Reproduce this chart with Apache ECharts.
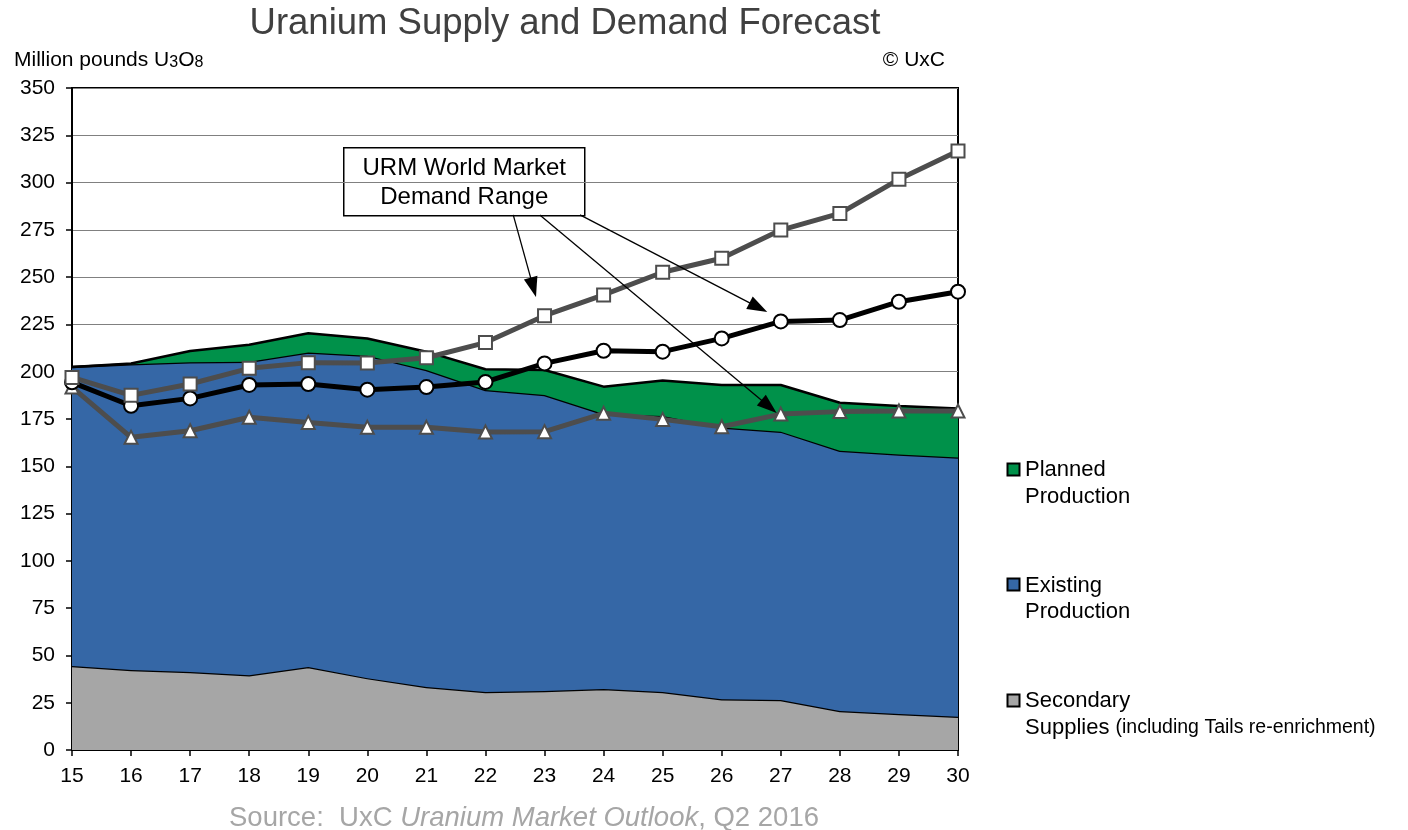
<!DOCTYPE html>
<html><head><meta charset="utf-8">
<script src="https://cdn.jsdelivr.net/npm/echarts@6/dist/echarts.min.js"></script>
<style>html,body{margin:0;padding:0;background:#fff}#c{width:1408px;height:830px}</style>
</head><body><div id="c"></div>
<script>
const years = [15,16,17,18,19,20,21,22,23,24,25,26,27,28,29,30];
const secondarySupplies = [44.4,42.3,41.2,39.5,43.9,38.0,33.3,30.7,31.2,32.3,30.7,26.8,26.4,20.6,19.0,17.6];
const existingProduction = [158.1,161.7,163.8,165.8,166.3,170.5,167.6,159.6,156.5,145.3,145.9,143.7,141.9,137.6,137.2,137.0];
const plannedProduction = [0,0.3,6,9,10.1,9.1,9.7,11,13.2,14.5,18.7,22.5,24.7,25.4,25.7,25.9];
const demandHigh = [197,187.5,193.5,201.8,204.8,204.6,207.4,215.4,229.6,240.6,252.6,260,274.9,283.7,301.7,316.7];
const demandMid = [194.4,182,185.9,193,193.5,190.5,191.9,194.6,204.4,211.1,210.6,217.6,226.6,227.3,237,242.3];
const demandLow = [191.9,165.3,168.8,175.9,173.2,170.6,170.6,168.1,168.3,178,174.8,170.9,177.6,178.9,179.2,179.2];
const yTicks = {min:0, max:350, interval:25};

const FONT = 'Liberation Sans, Arial, sans-serif';
const pair = arr => years.map((y,i)=>[y, arr[i]]);

const chart = echarts.init(document.getElementById('c'));

function areaSeries(name, data, color, z){
  return {name, type:'line', xAxisIndex:0, stack:'supply', data:data, symbol:'none',
    lineStyle:{color:'#000', width:2.5}, areaStyle:{color, opacity:1}, itemStyle:{color}, z, silent:true};
}
function demandSeries(name, data, color, symbol, size, z){
  return {name, type:'line', xAxisIndex:1, data:pair(data), symbol, symbolSize:size,
    lineStyle:{color, width:5}, itemStyle:{color:'#fff', borderColor:color, borderWidth:2, opacity:1}, z, silent:true};
}

const arrows = [
  [[22.47,282.9],[22.81,244.6]],
  [[23.60,282.9],[26.62,234.0]],
  [[22.92,282.9],[26.80,181.6]]
];

const high = demandSeries('High', demandHigh, '#4D4D4D', 'rect', 13, 7);
high.markLine = {
  silent:true, animation:false, z:20,
  symbol:['none','triangle'], symbolSize:[14,20],
  lineStyle:{color:'#000', width:1.3, type:'solid'},
  label:{show:false},
  data: arrows.map(a=>[{coord:a[0], symbol:'none'},{coord:a[1], symbol:'triangle', symbolSize:[14,20]}])
};

const axisLab = {color:'#000', fontSize:21, fontFamily:FONT};

chart.setOption({
  animation:false,
  backgroundColor:'#fff',
  grid:{left:72, right:450, top:88, bottom:80, show:true, borderColor:'#000', borderWidth:2, backgroundColor:'transparent'},
  xAxis:[
    {type:'category', data:years, boundaryGap:false,
      axisLine:{show:true, onZero:false, lineStyle:{color:'#000', width:2}},
      axisTick:{show:true, length:6, interval:0, lineStyle:{color:'#000', width:1.5}},
      axisLabel:Object.assign({margin:16, interval:0}, axisLab),
      splitLine:{show:false}},
    {type:'value', min:15, max:30, interval:1, show:false}
  ],
  yAxis:{type:'value', min:yTicks.min, max:yTicks.max, interval:yTicks.interval,
    axisLine:{show:true, lineStyle:{color:'#000', width:2}},
    axisTick:{show:true, length:6, lineStyle:{color:'#000', width:1.5}},
    axisLabel:Object.assign({margin:17}, axisLab),
    splitLine:{show:true, lineStyle:{color:'#808080', width:1}}},
  series:[
    areaSeries('Secondary Supplies', secondarySupplies, '#A6A6A6', 1),
    areaSeries('Existing Production', existingProduction, '#3567A6', 2),
    areaSeries('Planned Production', plannedProduction, '#00914A', 3),
    demandSeries('Low', demandLow, '#4D4D4D', 'triangle', 13, 5),
    demandSeries('Mid', demandMid, '#000000', 'circle', 14, 6),
    high
  ],
  graphic:[
    {type:'text', x:565, y:24, style:{text:'Uranium Supply and Demand Forecast', font:'36.5px '+FONT, fill:'#404040', textAlign:'center', textVerticalAlign:'middle'}},
    {type:'text', x:14, y:60, style:{text:'Million pounds U{s|3}O{s|8}', fill:'#000', textVerticalAlign:'middle', font:'21px '+FONT,
      rich:{s:{fontSize:16, fontFamily:FONT, fill:'#000', padding:[5,0,0,0]}}}},
    {type:'text', x:945, y:60, style:{text:'© UxC', font:'21px '+FONT, fill:'#000', textAlign:'right', textVerticalAlign:'middle'}},
    {type:'group', left:343, top:147, z:100, children:[
      {type:'rect', shape:{x:0,y:0,width:241,height:68}, style:{fill:'#fff', stroke:'#000', lineWidth:1.5}},
      {type:'text', x:120.5, y:21, style:{text:'URM World Market', font:'24px '+FONT, fill:'#000', textAlign:'center', textVerticalAlign:'middle'}},
      {type:'text', x:120.5, y:50, style:{text:'Demand Range', font:'24px '+FONT, fill:'#000', textAlign:'center', textVerticalAlign:'middle'}}
    ]},
    // legend
    {type:'rect', shape:{x:1007.5,y:463.5,width:12,height:12}, style:{fill:'#00914A', stroke:'#000', lineWidth:2}},
    {type:'text', x:1025, y:470, style:{text:'Planned', font:'22px '+FONT, fill:'#000', textVerticalAlign:'middle'}},
    {type:'text', x:1025, y:497, style:{text:'Production', font:'22px '+FONT, fill:'#000', textVerticalAlign:'middle'}},
    {type:'rect', shape:{x:1007.5,y:578.5,width:12,height:12}, style:{fill:'#3567A6', stroke:'#000', lineWidth:2}},
    {type:'text', x:1025, y:586, style:{text:'Existing', font:'22px '+FONT, fill:'#000', textVerticalAlign:'middle'}},
    {type:'text', x:1025, y:612, style:{text:'Production', font:'22px '+FONT, fill:'#000', textVerticalAlign:'middle'}},
    {type:'rect', shape:{x:1007.5,y:694.5,width:12,height:12}, style:{fill:'#A6A6A6', stroke:'#000', lineWidth:2}},
    {type:'text', x:1025, y:701, style:{text:'Secondary', font:'22px '+FONT, fill:'#000', textVerticalAlign:'middle'}},
    {type:'text', x:1025, y:728, style:{text:'Supplies {sm|(including Tails re-enrichment)}', font:'22px '+FONT, fill:'#000', textVerticalAlign:'middle',
      rich:{sm:{fontSize:19.5, fontFamily:FONT, fill:'#000'}}}},
    {type:'text', x:524, y:818, style:{text:'Source:  UxC {i|Uranium Market Outlook}, Q2 2016', font:'27.5px '+FONT, fill:'#A6A6A6', textAlign:'center', textVerticalAlign:'middle',
      rich:{i:{fontSize:27.5, fontStyle:'italic', fontFamily:FONT, fill:'#A6A6A6'}}}}
  ]
});
</script></body></html>
